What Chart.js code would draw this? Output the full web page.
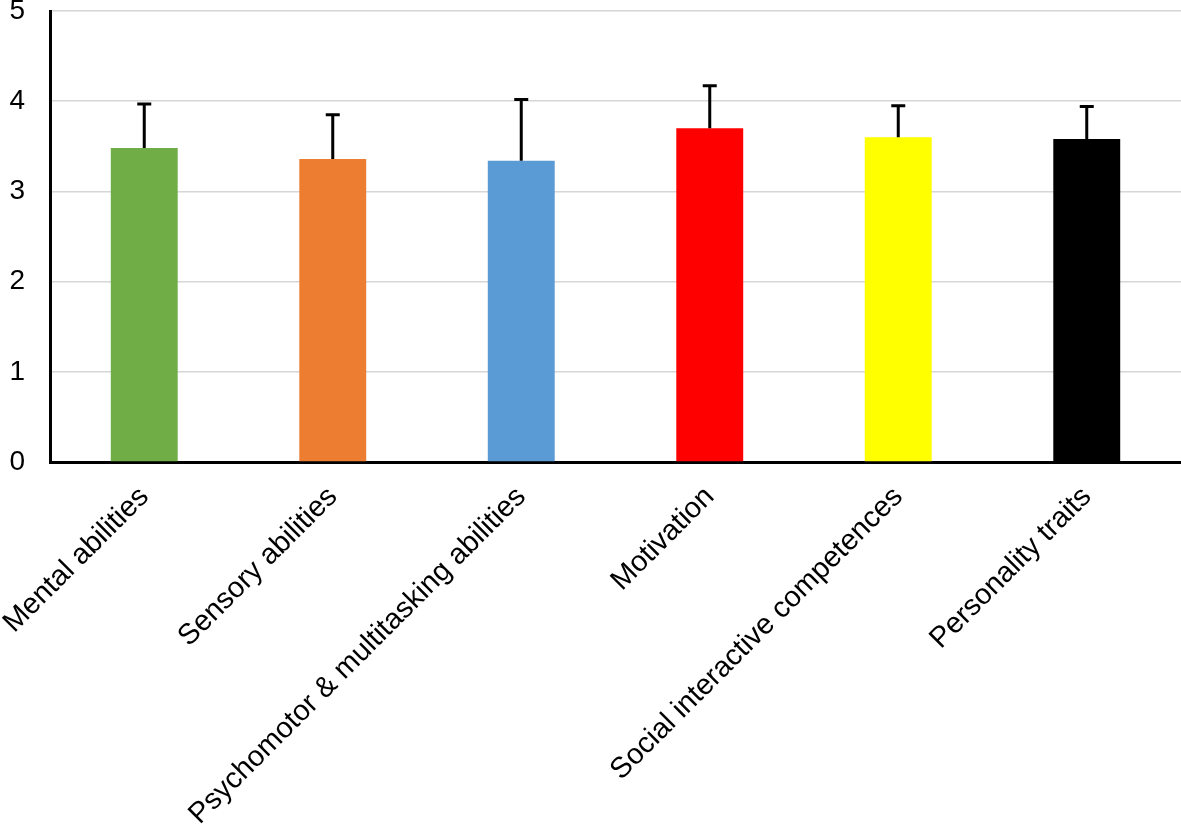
<!DOCTYPE html>
<html>
<head>
<meta charset="utf-8">
<script src="https://cdn.jsdelivr.net/npm/chart.js@4/dist/chart.umd.min.js"></script>
<style>
  html, body { margin: 0; padding: 0; background: #fff; }
  #wrap { width: 1181px; height: 832px; }
</style>
</head>
<body>
<div id="wrap"><canvas id="barChart"></canvas></div>
<script>
const categories = [
    'Mental abilities',
    'Sensory abilities',
    'Psychomotor & multitasking abilities',
    'Motivation',
    'Social interactive competences',
    'Personality traits'
];
const means = [3.48, 3.36, 3.34, 3.70, 3.60, 3.58];
const errors = [0.49, 0.49, 0.68, 0.47, 0.35, 0.36];
const barColors = ['#70AD47', '#ED7D31', '#5B9BD5', '#FF0000', '#FFFF00', '#000000'];
const yTicks = [0, 1, 2, 3, 4, 5];

const FONT = "'Liberation Sans', Arial, sans-serif";

// upper error whiskers with a cap, drawn through the y scale
const errorBars = {
    id: 'errorBars',
    afterDatasetsDraw(chart) {
        const c = chart.ctx;
        const y = chart.scales.y;
        const meta = chart.getDatasetMeta(0);
        c.save();
        c.strokeStyle = '#000';
        c.lineWidth = 3;
        meta.data.forEach((bar, i) => {
            const top = y.getPixelForValue(means[i] + errors[i]);
            c.beginPath();
            c.moveTo(bar.x, bar.y);
            c.lineTo(bar.x, top);
            c.moveTo(bar.x - 7, top);
            c.lineTo(bar.x + 7, top);
            c.stroke();
        });
        c.restore();
    }
};

const chart = new Chart(document.getElementById('barChart').getContext('2d'), {
    type: 'bar',
    data: {
        labels: categories,
        datasets: [{
            data: means,
            backgroundColor: barColors,
            borderWidth: 0,
            barPercentage: 0.355,
            categoryPercentage: 1
        }]
    },
    options: {
        responsive: true,
        maintainAspectRatio: false,
        animation: false,
        layout: { padding: { top: 11, right: 0, left: 0, bottom: 0 } },
        plugins: {
            legend: { display: false },
            tooltip: { enabled: false }
        },
        scales: {
            x: {
                grid: { display: false },
                border: { color: '#000', width: 3 },
                ticks: {
                    color: '#000',
                    font: { family: FONT, size: 29 },
                    minRotation: 45,
                    maxRotation: 45,
                    padding: 10
                },
                afterFit(scale) {
                    scale.height = 370;
                    scale.paddingLeft = 0;
                    scale.paddingRight = 0;
                    scale.paddingTop = 0;
                }
            },
            y: {
                min: 0,
                max: 5,
                afterBuildTicks(scale) { scale.ticks = yTicks.map(v => ({ value: v })); },
                grid: { color: '#d6d6d6', lineWidth: 1.5, drawTicks: false },
                border: { color: '#000', width: 3 },
                ticks: {
                    color: '#000',
                    font: { family: FONT, size: 28 },
                    padding: 25
                },
                afterFit(scale) {
                    scale.width = 50;
                    scale.paddingTop = 0;
                    scale.paddingBottom = 0;
                }
            }
        }
    },
    plugins: [errorBars]
});
</script>
</body>
</html>
